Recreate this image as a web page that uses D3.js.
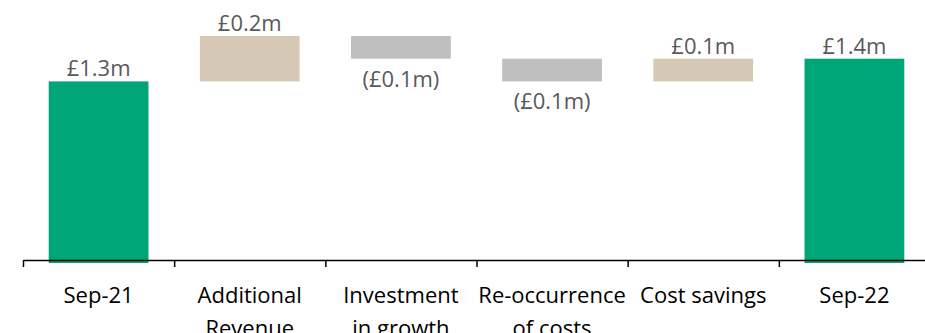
<!DOCTYPE html>
<html>
<head>
<meta charset="utf-8">
<script src="https://cdn.jsdelivr.net/npm/d3@7"></script>
<style>
  html, body { margin: 0; padding: 0; background: #fff; }
  svg { display: block; }
</style>
</head>
<body>
<svg id="chart" width="925" height="333"></svg>
<script>
// ---- data ----
const categories = ["Sep-21", "Additional Revenue", "Investment in growth", "Re-occurrence of costs", "Cost savings", "Sep-22"];
const categoryLines = [["Sep-21"], ["Additional", "Revenue"], ["Investment", "in growth"], ["Re-occurrence", "of costs"], ["Cost savings"], ["Sep-22"]];
const changes = [1.3, 0.2, -0.1, -0.1, 0.1, 1.4];   // £m
const barTypes = ["total", "increase", "decrease", "decrease", "increase", "total"];
const valueLabels = ["£1.3m", "£0.2m", "(£0.1m)", "(£0.1m)", "£0.1m", "£1.4m"];
const axisBase = 0.5; // value axis starts at £0.5m

// ---- build waterfall ----
let running = 0;
const bars = categories.map((c, i) => {
  let start, end;
  if (barTypes[i] === "total") { start = axisBase; end = changes[i]; running = changes[i]; }
  else { start = running; end = running + changes[i]; running = end; }
  return { cat: c, i, start, end, type: barTypes[i], label: valueLabels[i], lines: categoryLines[i] };
});

const colors = { total: "#00A677", increase: "#D5C8B4", decrease: "#BFBFBF" };

const svg = d3.select("#chart");
const left = 23, right = 930;
const x = d3.scaleBand().domain(categories).range([left, right]).paddingInner(0.34).paddingOuter(0.17);
const xEdge = d3.scaleLinear().domain([0, categories.length]).range([left, right]);
const y = d3.scaleLinear().domain([axisBase, 1.5]).range([263, 36]);

const font = "'Open Sans', 'Noto Sans', sans-serif";

// bars
svg.append("g").selectAll("rect").data(bars).join("rect")
  .attr("x", d => x(d.cat))
  .attr("width", x.bandwidth())
  .attr("y", d => y(Math.max(d.start, d.end)))
  .attr("height", d => Math.abs(y(d.start) - y(d.end)))
  .attr("fill", d => colors[d.type]);

// value labels
svg.append("g").selectAll("text").data(bars).join("text")
  .attr("x", d => x(d.cat) + x.bandwidth() / 2)
  .attr("y", d => d.type === "decrease" ? y(Math.min(d.start, d.end)) + 28 : y(Math.max(d.start, d.end)) - 5)
  .attr("text-anchor", "middle")
  .attr("font-family", font)
  .attr("font-size", 22)
  .attr("fill", "#595959")
  .text(d => d.label);

// axis with ticks at category boundaries
const axis = d3.axisBottom(xEdge).tickValues(d3.range(categories.length + 1)).tickFormat("").tickSize(7).tickSizeOuter(0);
const ag = svg.append("g").attr("transform", "translate(0,260)").call(axis);
ag.select(".domain").attr("stroke", "#000").attr("stroke-width", 1.5);
ag.selectAll(".tick line").attr("stroke", "#000").attr("stroke-width", 1.5);

// category labels
const cg = svg.append("g").selectAll("text").data(bars).join("text")
  .attr("x", d => x(d.cat) + x.bandwidth() / 2)
  .attr("y", 303)
  .attr("text-anchor", "middle")
  .attr("font-family", font)
  .attr("font-size", 22)
  .attr("fill", "#000");
cg.selectAll("tspan").data(d => d.lines.map(l => ({ l, x: x(d.cat) + x.bandwidth() / 2 }))).join("tspan")
  .attr("x", t => t.x)
  .attr("dy", (t, j) => j === 0 ? 0 : 33)
  .text(t => t.l);
</script>
</body>
</html>
